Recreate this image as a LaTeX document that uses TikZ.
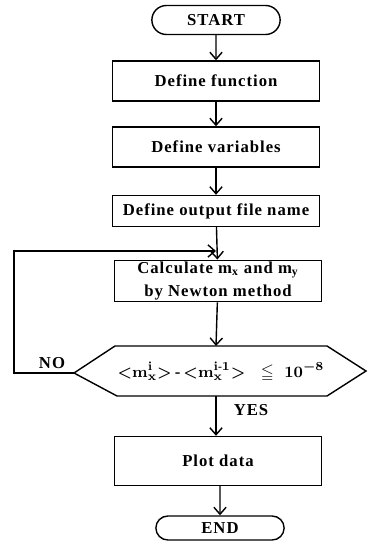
\documentclass[tikz,border=0pt]{standalone}
\usepackage{amsmath}
\usepackage{amssymb}
\usepackage{fontspec}
\setmainfont[LetterSpace=6]{Liberation Serif}
\usetikzlibrary{shapes.misc, arrows.meta, calc}
\tikzset{>={Straight Barb[length=4pt,width=7pt]}}
\tikzset{stepbox/.style={draw, rectangle, line width=0.8pt, minimum width=4.15cm, align=center,
  font=\fontsize{9.5}{14}\selectfont\bfseries}}
\tikzset{endbox/.style={draw, rounded rectangle, line width=0.8pt, minimum width=2.8cm,
  font=\fontsize{9.5}{12}\selectfont\bfseries}}
\tikzset{conn/.style={->, line width=0.8pt}}

\begin{document}
\begin{tikzpicture}[x=0.02cm, y=-0.02cm]

    \useasboundingbox (0,0) rectangle (370,544);

    \node[endbox, minimum height=0.58cm] (start) at (216,20) {START};
    \node[stepbox, minimum height=0.8cm] (func) at (216,81) {Define function};
    \node[stepbox, minimum height=0.8cm] (vars) at (216,147) {Define variables};
    \node[stepbox, minimum height=0.62cm] (outf) at (216,211) {Define output file name};
    \node[stepbox, minimum height=0.72cm, inner sep=1pt] (calc) at (218,281)
        {Calculate $\mathbf{m}_{\mathbf{x}}$ and $\mathbf{m}_{\mathbf{y}}$\\[-1pt] by Newton method};

    % decision
    \node[font=\fontsize{9.5}{12}\selectfont\bfseries\boldmath] (cond) at (221,372)
        {${<}\mathbf{m}_{\mathbf{x}}^{\mathbf{i}}{>}\,\text{-}\,{<}\mathbf{m}_{\mathbf{x}}^{\mathbf{i\text{-}1}}{>}\;\;\leqq\;\mathbf{10}^{\mathbf{-8}}$};
    \coordinate (hl) at (74,373);
    \coordinate (hr) at (366,371);
    \coordinate (ctop) at (216,346);
    \coordinate (cbot) at (216,396);
    \draw[line width=0.8pt] (hl) -- (115,346) -- (327,346) -- (hr) -- (327,396) -- (117,396) -- cycle;

    \node[stepbox, minimum height=0.98cm] (plot) at (218,461) {Plot data};
    \node[endbox, minimum height=0.48cm] (end) at (220,528) {END};

    \coordinate (loop) at (216,251);

    \draw[conn] (start) -- (func);
    \draw[conn] (func) -- (vars);
    \draw[conn] (vars) -- (outf);
    \draw[conn] (outf) -- (calc);
    \draw[conn] (calc) -- (ctop);
    \draw[conn] (cbot) -- (plot.north -| cbot);
    \draw[conn] (plot.south -| end) -- (end);
    \draw[conn] (hl) -- ++(-60,0) |- (loop);

    \node[font=\fontsize{9.5}{12}\selectfont\bfseries] (no) at (52,363) {NO};
    \node[font=\fontsize{9.5}{12}\selectfont\bfseries] (yes) at (251,410) {YES};

\end{tikzpicture}
\end{document}
